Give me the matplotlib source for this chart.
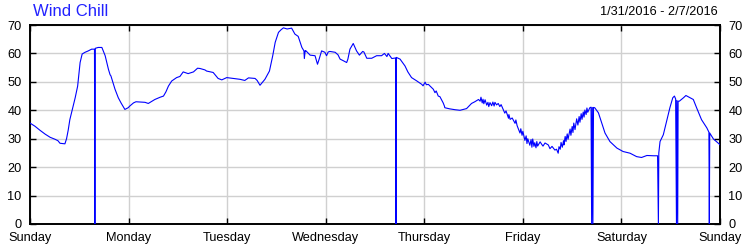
import matplotlib
matplotlib.use("Agg")
import matplotlib.pyplot as plt

plt.rcParams['font.family'] = ['Liberation Sans', 'DejaVu Sans']

title = "Wind Chill"
date_range = "1/31/2016 - 2/7/2016"
day_labels = ["Sunday", "Monday", "Tuesday", "Wednesday", "Thursday", "Friday", "Saturday", "Sunday"]
day_hours = [0, 24, 48, 72, 96, 120, 144, 168]
y_ticks = [0, 10, 20, 30, 40, 50, 60, 70]

# hours since Sunday 00:00, wind chill (°F)
hours = [
    0.0, 1.2, 2.4, 3.7, 4.9, 6.1, 6.8, 7.3, 8.5, 8.9, 9.3, 9.7, 11.0, 11.6, 12.2, 12.7,
    13.4, 14.2, 15.0, 15.7, 15.8, 15.9, 16.6, 17.5, 18.3, 19.1, 19.5, 19.7, 20.7, 21.5,
    22.2, 23.1, 23.9, 24.3, 25.2, 25.8, 26.8, 28.0, 28.8, 29.7, 30.4, 31.7, 32.5, 33.1,
    33.7, 34.5, 35.7, 36.5, 37.3, 38.5, 39.8, 40.8, 41.4, 42.6, 43.0, 44.6, 45.8, 46.7,
    47.9, 49.5, 51.1, 52.3, 53.2, 54.8, 55.3, 56.0, 57.2, 58.3, 59.1, 59.7, 60.5, 61.1,
    61.7, 62.6, 63.7, 64.5, 65.3, 66.2, 66.7, 66.8, 67.0, 67.2, 68.2, 69.4, 70.0, 70.4,
    71.0, 71.8, 72.2, 72.6, 73.0, 74.3, 75.0, 75.5, 76.2, 77.1, 77.4, 77.9, 78.7, 79.5,
    80.2, 81.0, 81.3, 82.0, 83.2, 84.4, 85.6, 86.3, 86.9, 87.2, 88.1, 89.0, 89.1, 89.2,
    90.1, 91.3, 92.0, 92.9, 94.2, 95.4, 95.7, 96.2, 96.5, 97.0, 98.2, 98.6, 98.9, 99.4,
    99.8, 100.6, 100.9, 101.0, 102.2, 103.5, 104.7, 106.3, 107.5, 108.3, 109.2, 109.6,
    109.8, 110.1, 110.3, 110.5, 110.8, 111.2, 111.5, 111.7, 112.0, 112.4, 112.7, 113.0,
    113.2, 113.6, 114.0, 114.4, 114.7, 115.2, 115.6, 115.9, 116.5, 116.6, 116.9, 117.4,
    118.1, 118.3, 118.6, 119.3, 119.5, 119.8, 120.0, 120.5, 120.8, 121.0, 121.2, 121.7,
    122.0, 122.2, 122.4, 122.7, 122.9, 123.2, 123.4, 123.6, 124.2, 124.6, 124.9, 125.4,
    126.2, 126.6, 127.1, 127.8, 128.2, 128.6, 128.8, 129.1, 129.3, 129.6, 129.9, 130.0,
    130.3, 130.5, 130.8, 131.0, 131.5, 131.7, 132.0, 132.2, 132.4, 132.7, 133.1, 133.4,
    133.7, 133.9, 134.2, 134.4, 134.7, 134.9, 135.1, 135.4, 135.6, 135.8, 136.3, 136.6,
    136.75, 136.9, 137.05, 137.2, 137.5, 138.4, 139.2, 140.0, 141.2, 142.9, 144.4, 146.1,
    147.7, 148.9, 150.2, 151.8, 152.8, 153.0, 153.1, 153.4, 154.2, 155.0, 155.8, 156.5,
    156.9, 157.2, 157.4, 157.5, 157.7, 157.8, 158.1, 159.1, 159.7, 160.7, 161.5, 162.3,
    163.5, 164.8, 165.3, 165.4, 165.5, 166.4, 168.0,
]
wind_chill = [
    35.5, 34.4, 33.0, 31.6, 30.5, 29.8, 29.3, 28.4, 28.2, 30.0, 33.0, 36.7, 44.4, 48.5, 56.8, 59.8,
    60.4, 60.9, 61.5, 61.5, 0.0, 61.8, 62.1, 62.1, 59.2, 54.4, 52.5, 52.1, 47.4, 44.4,
    42.5, 40.3, 40.9, 41.5, 42.6, 43.0, 42.9, 42.8, 42.4, 43.2, 43.8, 44.6, 45.0, 46.5,
    48.5, 50.3, 51.5, 51.9, 53.5, 52.9, 53.5, 54.8, 54.7, 54.2, 53.8, 53.3, 51.2, 50.7,
    51.5, 51.2, 50.9, 50.5, 51.4, 51.2, 50.5, 48.8, 50.9, 53.8, 59.2, 63.9, 67.4, 68.3,
    69.0, 68.6, 68.9, 66.8, 66.0, 62.1, 60.9, 58.2, 61.0, 60.9, 59.4, 59.2, 56.2, 58.0,
    60.9, 60.4, 59.2, 60.5, 60.7, 60.4, 59.5, 58.0, 57.5, 56.8, 58.0, 61.5, 63.5, 60.9,
    59.4, 60.7, 60.5, 58.3, 58.3, 59.2, 59.2, 60.0, 58.9, 60.0, 58.2, 58.4, 0.0, 58.6,
    58.0, 55.6, 53.5, 51.5, 50.3, 49.1, 48.6, 49.9, 49.0, 49.1, 47.4, 46.2, 46.8, 45.0,
    44.8, 42.6, 41.5, 40.9, 40.5, 40.2, 40.0, 40.6, 42.4, 43.0, 43.8, 43.2,
    44.6, 42.6, 43.9, 42.3, 43.7, 41.8, 42.8, 41.3, 42.7, 41.6, 42.9, 41.5,
    42.8, 41.9, 42.4, 41.3, 42.0, 40.3, 39.0, 39.8, 37.2, 38.5, 36.8, 37.3,
    35.4, 36.6, 34.6, 32.0, 33.5, 31.2, 32.6, 29.4, 31.0, 28.3, 30.0, 27.7,
    29.7, 27.0, 29.9, 27.3, 28.6, 26.8, 29.0, 27.4, 28.9, 28.0, 27.4, 28.5,
    27.8, 26.5, 27.3, 26.0, 26.3, 24.9, 27.2, 26.3, 28.7, 27.0, 29.3, 27.8,
    30.8, 29.0, 31.7, 29.8, 33.4, 31.2, 34.3, 32.2, 35.5, 33.2, 37.0, 34.8,
    37.8, 35.8, 38.8, 36.8, 39.4, 37.6, 40.1, 38.5, 40.8, 39.3, 40.9, 41.1,
    0.0, 41.0, 0.0, 41.0, 40.9, 39.1, 35.6, 32.0, 29.0, 26.7, 25.5, 24.9,
    23.7, 23.4, 24.1, 24.0, 24.0, 0.0, 25.0, 29.0, 31.4, 36.1, 40.9, 44.4,
    45.0, 44.0, 0.0, 43.5, 0.0, 43.2, 43.2, 44.4, 45.2, 44.4, 43.8, 40.9,
    36.7, 33.8, 32.3, 0.0, 32.0, 29.9, 27.9,
]

fig = plt.figure(figsize=(7.5, 2.5), dpi=100)
ax = fig.add_axes([30 / 750, 1 - 224 / 250, 690 / 750, 199 / 250])

ax.plot(hours, wind_chill, color='#0000ff', linewidth=0.8, zorder=3)

ax.set_xlim(0, 168)
ax.set_ylim(0, 70)
ax.set_xticks(day_hours)
ax.set_xticklabels(day_labels)
ax.set_yticks(y_ticks)
ax.grid(True, color='#d0d0d0', linewidth=1.0, zorder=0)
ax.set_axisbelow(True)

ax.tick_params(axis='x', direction='in', length=4, width=1, top=True, bottom=True,
               labelsize=9.2, pad=6, colors='black')
ax.tick_params(axis='y', direction='in', length=4, width=1, left=True, right=True,
               labelleft=True, labelright=True, labelsize=9.2, pad=6, colors='black')
for s in ax.spines.values():
    s.set_linewidth(1.4)
    s.set_color('black')

fig.text(33 / 750, 1 - 12 / 250, title, color='#2222ff', fontsize=12,
         ha='left', va='center')
fig.text(718 / 750, 1 - 12 / 250, date_range, color='black', fontsize=9.2,
         ha='right', va='center')

fig.savefig('out.png', dpi=100)
